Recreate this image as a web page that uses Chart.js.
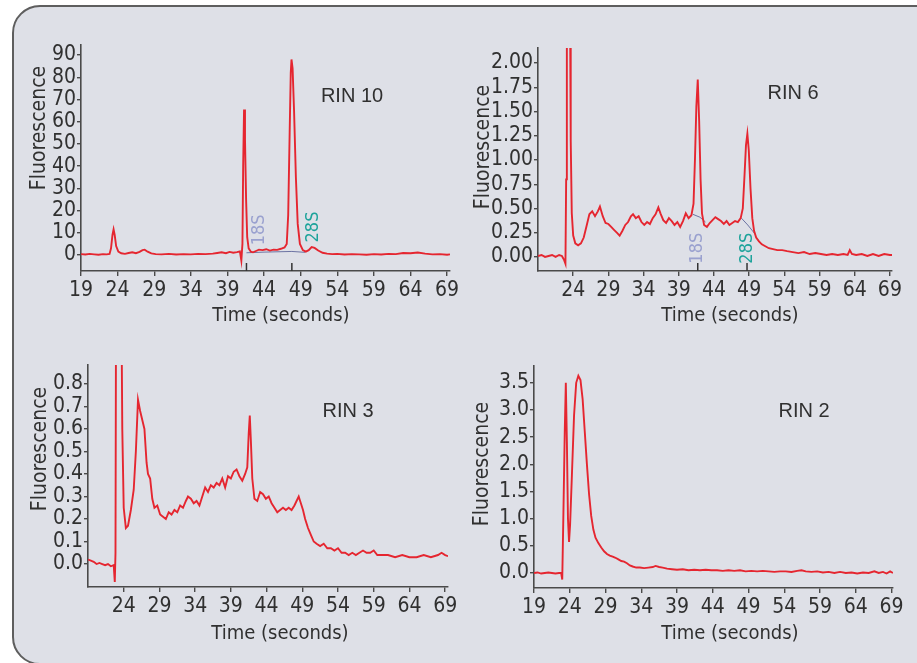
<!DOCTYPE html>
<html>
<head>
<meta charset="utf-8">
<title>RIN electropherograms</title>
<script src="https://cdn.jsdelivr.net/npm/chart.js@4.4.1/dist/chart.umd.min.js"></script>
<style>
  html, body { margin: 0; padding: 0; background: #fff; width: 917px; height: 663px; overflow: hidden; }
  #frame { position: absolute; left: 12px; top: 5px; width: 940px; height: 660px; box-sizing: border-box;
           border: 2px solid #5e5e5e; border-radius: 28px; background: #dee0e7; }
  canvas { position: absolute; }
  .txt { position: absolute; white-space: nowrap; color: #303030; transform: translate(-50%, -50%); }
  .rin { font-family: "Liberation Sans", Arial, sans-serif; font-size: 20px; }
  .xtitle { font-family: "Liberation Sans Narrow", "DejaVu Sans Condensed", sans-serif; font-size: 20px; }
  .ytitle { font-family: "Liberation Sans Narrow", "DejaVu Sans Condensed", sans-serif; font-size: 21px;
            transform: translate(-50%, -50%) rotate(-90deg); }
</style>
</head>
<body>
<div id="frame"></div>
<canvas id="c10" width="445" height="300" style="left:20px;top:30px"></canvas>
<canvas id="c6" width="440" height="300" style="left:470px;top:30px"></canvas>
<canvas id="c3" width="445" height="300" style="left:20px;top:350px"></canvas>
<canvas id="c2" width="440" height="300" style="left:470px;top:350px"></canvas>

<div class="txt rin" style="left:352px;top:95px">RIN 10</div>
<div class="txt rin" style="left:793px;top:92px">RIN 6</div>
<div class="txt rin" style="left:348px;top:410px">RIN 3</div>
<div class="txt rin" style="left:804px;top:410px">RIN 2</div>
<div class="txt ytitle" style="left:38px;top:128px">Fluorescence</div>
<div class="txt ytitle" style="left:482px;top:147px">Fluorescence</div>
<div class="txt ytitle" style="left:39px;top:449px">Fluorescence</div>
<div class="txt ytitle" style="left:481px;top:464px">Fluorescence</div>
<div class="txt xtitle" style="left:281px;top:314px">Time (seconds)</div>
<div class="txt xtitle" style="left:730px;top:314px">Time (seconds)</div>
<div class="txt xtitle" style="left:280px;top:632px">Time (seconds)</div>
<div class="txt xtitle" style="left:730px;top:632px">Time (seconds)</div>

<script>
// tick labels
const timeTicks = [19, 24, 29, 34, 39, 44, 49, 54, 59, 64, 69];
const timeTicksNo19 = [24, 29, 34, 39, 44, 49, 54, 59, 64, 69];
const rin10YTicks = [0, 10, 20, 30, 40, 50, 60, 70, 80, 90];
const rin6YTicks = [0, 0.25, 0.5, 0.75, 1, 1.25, 1.5, 1.75, 2];
const rin3YTicks = [0, 0.1, 0.2, 0.3, 0.4, 0.5, 0.6, 0.7, 0.8];
const rin2YTicks = [0, 0.5, 1, 1.5, 2, 2.5, 3, 3.5];

// RIN 10
const rin10Time = [
  19, 19.6, 20.2, 20.8, 21.4, 22, 22.5, 22.9, 23.1, 23.3,
  23.45, 23.6, 23.8, 24.1, 24.5, 25, 25.5, 26, 26.5, 27,
  27.4, 27.7, 28.1, 28.6, 29.2, 30, 31, 32, 33, 34,
  35, 36, 37, 37.6, 38.2, 38.8, 39.3, 39.8, 40.3, 40.7,
  40.9, 41.05, 41.15, 41.27, 41.4, 41.55, 41.7, 41.9, 42.2, 42.5,
  42.9, 43.3, 43.8, 44.3, 44.8, 45.3, 45.8, 46.3, 46.8, 47.1,
  47.3, 47.5, 47.65, 47.75, 47.9, 48.1, 48.35, 48.6, 48.9, 49.3,
  49.7, 50.1, 50.5, 50.9, 51.4, 52, 52.6, 53.3, 54, 55,
  56, 57, 58, 59, 60, 61, 62, 63, 64, 65,
  66, 67, 68, 69, 69.4
];
const rin10Fluor = [
  0.4, 0.2, 0.5, 0.3, 0.1, 0.4, 0.3, 0.5, 3, 9,
  11.5, 9, 4, 1.5, 0.8, 0.5, 0.9, 1.2, 0.8, 1.4,
  2.2, 2.4, 1.5, 0.7, 0.4, 0.3, 0.5, 0.2, 0.4, 0.3,
  0.5, 0.4, 0.6, 0.9, 1.2, 0.8, 1.4, 1.0, 1.3, 1.6,
  -2.5, 5, 40, 65.5, 52, 25, 8, 3, 1.5, 1.2,
  1.8, 2.4, 2.2, 2.6, 2.0, 2.4, 2.3, 2.8, 3.4, 5,
  18, 55, 82, 88, 84, 65, 35, 14, 5, 2.2,
  1.5, 2.2, 3.6, 3.2, 2.0, 1.0, 0.6, 0.4, 0.5, 0.2,
  0.4, 0.3, 0.1, 0.4, 0.2, 0.5, 0.4, 0.9, 0.8, 1.1,
  0.6, 0.3, 0.4, 0.1, 0.3
];
const rin10BaseTime = [41.6, 44, 47.8, 49.6];
const rin10BaseFluor = [1.0, 1.3, 1.6, 1.2];
const rin10MarkTime = [41.6, 47.8];

// RIN 6
const rin6Time = [
  19, 19.5, 20, 20.5, 21, 21.5, 22, 22.4, 22.7, 22.9,
  23.0, 23.1, 23.55, 23.65, 23.8, 24.0, 24.3, 24.7, 25.1, 25.5,
  25.9, 26.3, 26.7, 27.1, 27.5, 27.8, 28.2, 28.6, 29.0, 29.4,
  29.8, 30.2, 30.6, 31.0, 31.4, 31.8, 32.2, 32.5, 32.9, 33.3,
  33.7, 34.1, 34.5, 34.9, 35.3, 35.7, 36.1, 36.4, 36.8, 37.2,
  37.6, 38.0, 38.4, 38.8, 39.2, 39.6, 40.0, 40.4, 40.8, 41.1,
  41.3, 41.5, 41.7, 41.9, 42.1, 42.3, 42.6, 43.0, 43.4, 43.8,
  44.2, 44.6, 45.0, 45.4, 45.8, 46.2, 46.6, 47.0, 47.4, 47.8,
  48.1, 48.35, 48.55, 48.75, 48.95, 49.2, 49.45, 49.7, 50.0, 50.4,
  50.8, 51.3, 51.8, 52.4, 53, 53.7, 54.4, 55.2, 56, 56.8,
  57.6, 58.4, 59.2, 60, 60.8, 61.6, 62.4, 63.0, 63.3, 63.6,
  64.2, 65, 65.8, 66.6, 67.4, 68.2, 69, 69.3
];
const rin6Fluor = [
  0.01, 0.02, 0.0, 0.01, 0.02, 0.0, 0.02, 0.01, -0.03, -0.07,
  0.8, 2.6, 2.6, 1.2, 0.45, 0.22, 0.14, 0.12, 0.14, 0.2,
  0.32, 0.44, 0.47, 0.42, 0.47, 0.52, 0.42, 0.35, 0.34, 0.31,
  0.28, 0.25, 0.22, 0.27, 0.33, 0.36, 0.42, 0.44, 0.40, 0.42,
  0.36, 0.33, 0.36, 0.34, 0.40, 0.44, 0.51, 0.45, 0.38, 0.35,
  0.40, 0.37, 0.33, 0.36, 0.31, 0.37, 0.45, 0.40, 0.43, 0.55,
  1.0, 1.55, 1.83, 1.4, 0.8, 0.45, 0.33, 0.31, 0.35, 0.38,
  0.41, 0.39, 0.37, 0.34, 0.37, 0.33, 0.35, 0.37, 0.36, 0.40,
  0.5, 0.85, 1.15, 1.27, 1.1, 0.7, 0.4, 0.27, 0.2, 0.16,
  0.13, 0.11, 0.09, 0.08, 0.07, 0.07, 0.06, 0.05, 0.04, 0.05,
  0.03, 0.04, 0.03, 0.02, 0.03, 0.02, 0.03, 0.02, 0.07, 0.03,
  0.02, 0.03, 0.01, 0.03, 0.01, 0.03, 0.02, 0.02
];
const rin6BaseTime = [41.0, 42.0, 42.8, 45, 47.9, 48.8, 49.8];
const rin6BaseFluor = [0.44, 0.41, 0.36, null, 0.40, 0.33, 0.24];
const rin6MarkTime = [41.7, 48.7];

// RIN 3
const rin3Time = [
  19, 19.4, 19.8, 20.2, 20.6, 21, 21.4, 21.8, 22.2, 22.6,
  22.75, 22.85, 22.95, 23.6, 23.8, 24.0, 24.3, 24.6, 25.0, 25.4,
  25.7, 26.0, 26.3, 26.6, 26.9, 27.2, 27.4, 27.7, 28.0, 28.3,
  28.7, 29.1, 29.5, 29.9, 30.3, 30.7, 31.1, 31.5, 31.9, 32.3,
  32.7, 33.0, 33.4, 33.8, 34.2, 34.6, 35.0, 35.4, 35.8, 36.2,
  36.6, 37.0, 37.4, 37.8, 38.2, 38.6, 39.0, 39.4, 39.8, 40.2,
  40.6, 41.0, 41.3, 41.5, 41.65, 41.8, 42.0, 42.3, 42.7, 43.1,
  43.5, 43.9, 44.3, 44.7, 45.1, 45.5, 45.9, 46.3, 46.7, 47.1,
  47.5, 47.9, 48.2, 48.5, 48.8, 49.1, 49.4, 49.8, 50.2, 50.6,
  51.0, 51.5, 52.0, 52.5, 53.0, 53.5, 54.0, 54.5, 55.0, 55.5,
  56.0, 56.5, 57.0, 57.5, 58.0, 58.5, 59.0, 59.5, 60.0, 61.0,
  62.0, 63.0, 64.0, 65.0, 66.0, 67.0, 68.0, 68.5, 69.0, 69.4
];
const rin3Fluor = [
  0.02, 0.015, 0.01, 0.0, 0.005, 0.0, -0.005, 0.0, -0.01, -0.005,
  -0.08, 0.05, 1.5, 1.5, 0.6, 0.25, 0.16, 0.17, 0.24, 0.33,
  0.5, 0.73, 0.68, 0.64, 0.60, 0.45, 0.40, 0.38, 0.29, 0.25,
  0.26, 0.22, 0.21, 0.20, 0.23, 0.22, 0.24, 0.23, 0.26, 0.25,
  0.28, 0.30, 0.29, 0.27, 0.28, 0.26, 0.30, 0.34, 0.32, 0.35,
  0.34, 0.36, 0.35, 0.38, 0.34, 0.39, 0.38, 0.41, 0.42, 0.39,
  0.37, 0.40, 0.43, 0.58, 0.66, 0.55, 0.38, 0.29, 0.28, 0.32,
  0.31, 0.29, 0.30, 0.27, 0.25, 0.23, 0.24, 0.25, 0.24, 0.25,
  0.24, 0.26, 0.28, 0.30, 0.27, 0.24, 0.20, 0.16, 0.13, 0.10,
  0.09, 0.08, 0.09, 0.07, 0.07, 0.06, 0.07, 0.05, 0.05, 0.04,
  0.05, 0.04, 0.05, 0.06, 0.05, 0.05, 0.06, 0.04, 0.04, 0.04,
  0.03, 0.04, 0.03, 0.03, 0.04, 0.03, 0.04, 0.05, 0.04, 0.035
];

// RIN 2
const rin2Time = [
  19, 19.5, 20, 20.5, 21, 21.5, 22, 22.5, 22.8, 22.95,
  23.1, 23.3, 23.45, 23.6, 23.75, 23.9, 24.05, 24.3, 24.6, 24.9,
  25.2, 25.5, 25.8, 26.1, 26.4, 26.7, 27.0, 27.3, 27.6, 28.0,
  28.4, 28.8, 29.2, 29.6, 30.0, 30.4, 30.8, 31.2, 31.6, 32.0,
  32.4, 32.8, 33.3, 33.8, 34.4, 35.0, 35.6, 36.0, 36.5, 37.0,
  37.6, 38.3, 39.0, 39.8, 40.6, 41.4, 42.2, 43.0, 43.8, 44.6,
  45.4, 46.2, 47.0, 47.8, 48.6, 49.4, 50.2, 51.0, 51.8, 52.6,
  53.4, 54.2, 55.0, 55.8, 56.4, 57.0, 57.8, 58.6, 59.4, 60.2,
  61.0, 61.8, 62.6, 63.4, 64.2, 65.0, 65.8, 66.6, 67.2, 67.8,
  68.3, 68.8, 69.2
];
const rin2Fluor = [
  0.0, 0.01, -0.01, 0.0, 0.01, 0.0, -0.01, 0.0, 0.0, -0.12,
  1.0, 2.6, 3.5, 2.4, 1.0, 0.57, 0.9, 1.8, 2.9, 3.5,
  3.63, 3.55, 3.2, 2.6, 2.0, 1.45, 1.05, 0.8, 0.65, 0.55,
  0.47, 0.40, 0.35, 0.32, 0.30, 0.28, 0.25, 0.22, 0.21, 0.18,
  0.14, 0.12, 0.10, 0.10, 0.09, 0.10, 0.11, 0.13, 0.11, 0.10,
  0.08, 0.07, 0.06, 0.07, 0.05, 0.06, 0.05, 0.06, 0.05, 0.05,
  0.04, 0.05, 0.04, 0.05, 0.03, 0.04, 0.03, 0.04, 0.03, 0.02,
  0.03, 0.03, 0.02, 0.04, 0.05, 0.03, 0.02, 0.03, 0.01, 0.02,
  0.0, 0.02, 0.0, 0.01, -0.01, 0.01, 0.0, 0.03, 0.0, 0.02,
  -0.01, 0.03, 0.0
];

const RED = 'rgb(229,38,48)';
const BASE_LINE = 'rgba(88,96,150,0.85)';
const TEXT = '#303030';
const NARROW = '"Liberation Sans Narrow", "DejaVu Sans Condensed", sans-serif';
const COL_18S = '#9aa1cf';
const COL_28S = '#1ea39b';

const pts = (xs, ys) => xs.map((x, i) => ({ x: x, y: ys[i] }));

// 18S / 28S tick marks on the time axis plus their rotated names
const markerPlugin = {
  id: 'rnaMarkers',
  afterDatasetsDraw(chart, args, opts) {
    const marks = opts.marks || [];
    const { ctx, chartArea } = chart;
    const xs = chart.scales.x, ys = chart.scales.y;
    marks.forEach(m => {
      const px = xs.getPixelForValue(m.time);
      ctx.save();
      ctx.strokeStyle = '#333';
      ctx.lineWidth = 1.5;
      ctx.beginPath();
      ctx.moveTo(px, chartArea.bottom);
      ctx.lineTo(px, chartArea.bottom - 8);
      ctx.stroke();
      ctx.translate(xs.getPixelForValue(m.labelTime), ys.getPixelForValue(m.labelLevel));
      ctx.rotate(-Math.PI / 2);
      ctx.font = '18px ' + NARROW;
      ctx.fillStyle = m.color;
      ctx.textAlign = 'center';
      ctx.textBaseline = 'middle';
      ctx.fillText(m.name, 0, 0);
      ctx.restore();
    });
  }
};

function panel(id, p) {
  const datasets = [{ data: pts(p.time, p.fluor), borderColor: RED, borderWidth: 1.9, pointRadius: 0 }];
  if (p.baseTime) {
    datasets.push({ data: pts(p.baseTime, p.baseFluor), borderColor: BASE_LINE, borderWidth: 1, pointRadius: 0 });
  }
  const tickFont = { family: NARROW, size: 21 };
  return new Chart(document.getElementById(id), {
    type: 'line',
    data: { datasets: datasets },
    options: {
      responsive: false,
      animation: false,
      devicePixelRatio: 1,
      layout: { padding: p.pad },
      plugins: {
        legend: { display: false },
        tooltip: { enabled: false },
        rnaMarkers: { marks: p.marks || [] }
      },
      scales: {
        x: {
          type: 'linear',
          min: 19,
          max: p.xMax,
          afterBuildTicks: s => { s.ticks = p.xTicks.map(v => ({ value: v })); },
          afterFit: s => { s.height = p.xHeight; },
          border: { display: true, color: '#4a4a4a', width: 1.6 },
          grid: { display: true, drawOnChartArea: false, drawTicks: true, tickLength: 5, color: '#4a4a4a', lineWidth: 1.4 },
          ticks: { font: tickFont, color: TEXT, padding: 2, maxRotation: 0, autoSkip: false }
        },
        y: {
          min: p.yMin,
          max: p.yMax,
          afterBuildTicks: s => { s.ticks = p.yTicks.map(v => ({ value: v })); },
          afterFit: s => { s.width = p.yWidth; },
          border: { display: true, color: '#4a4a4a', width: 1.6 },
          grid: { display: true, drawOnChartArea: false, drawTicks: true, tickLength: 4, color: '#4a4a4a', lineWidth: 1.4 },
          ticks: { font: tickFont, color: TEXT, padding: 1, autoSkip: false, callback: v => v.toFixed(p.decimals) }
        }
      }
    },
    plugins: [markerPlugin]
  });
}

panel('c10', {
  time: rin10Time, fluor: rin10Fluor, baseTime: rin10BaseTime, baseFluor: rin10BaseFluor,
  xTicks: timeTicks, yTicks: rin10YTicks, decimals: 0,
  xMax: 69.4, yMin: -7.2, yMax: 94.5,
  pad: { top: 15, right: 15, left: 0, bottom: 0 }, yWidth: 61, xHeight: 59,
  marks: [
    { name: '18S', time: rin10MarkTime[0], labelTime: 43.4, labelLevel: 11.3, color: COL_18S },
    { name: '28S', time: rin10MarkTime[1], labelTime: 50.7, labelLevel: 12.6, color: COL_28S }
  ]
});

panel('c6', {
  time: rin6Time, fluor: rin6Fluor, baseTime: rin6BaseTime, baseFluor: rin6BaseFluor,
  xTicks: timeTicksNo19, yTicks: rin6YTicks, decimals: 2,
  xMax: 69.3, yMin: -0.145, yMax: 2.155,
  pad: { top: 18, right: 18, left: 0, bottom: 0 }, yWidth: 68, xHeight: 59,
  marks: [
    { name: '18S', time: rin6MarkTime[0], labelTime: 41.7, labelLevel: 0.09, color: COL_18S },
    { name: '28S', time: rin6MarkTime[1], labelTime: 48.7, labelLevel: 0.09, color: COL_28S }
  ]
});

panel('c3', {
  time: rin3Time, fluor: rin3Fluor,
  xTicks: timeTicksNo19, yTicks: rin3YTicks, decimals: 1,
  xMax: 69.4, yMin: -0.102, yMax: 0.884,
  pad: { top: 15, right: 17, left: 0, bottom: 0 }, yWidth: 68, xHeight: 63
});

panel('c2', {
  time: rin2Time, fluor: rin2Fluor,
  xTicks: timeTicks, yTicks: rin2YTicks, decimals: 1,
  xMax: 69.2, yMin: -0.276, yMax: 3.81,
  pad: { top: 16, right: 17, left: 0, bottom: 0 }, yWidth: 64, xHeight: 62
});
</script>
</body>
</html>
